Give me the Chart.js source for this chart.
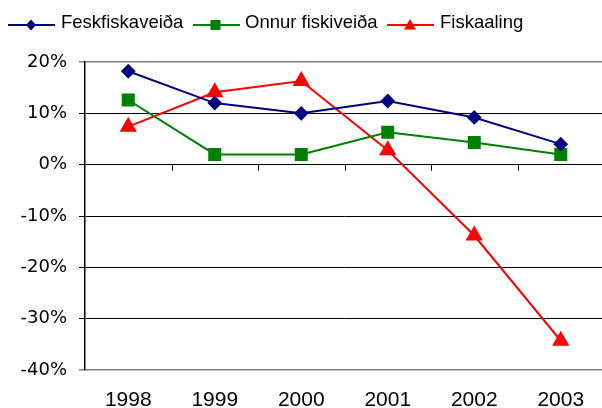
<!DOCTYPE html>
<html>
<head>
<meta charset="utf-8">
<script src="https://cdn.jsdelivr.net/npm/chart.js@4.4.1/dist/chart.umd.min.js"></script>
<style>
  html, body { margin: 0; padding: 0; background: #fff; overflow: hidden; }
  #wrap { position: relative; width: 602px; height: 408px; overflow: hidden; }
  #c { position: absolute; left: 0; top: 0; }
  .lg { position: absolute; font-family: "Liberation Sans", Arial, sans-serif; font-size: 18.5px; line-height: 18px; color: #000; white-space: nowrap; top: 13px; }
  .ls { position: absolute; top: 15px; }
</style>
</head>
<body>
<div id="wrap">
  <canvas id="c" width="604" height="408" style="width:604px;height:408px"></canvas>
  <svg class="ls" style="left:8px" width="48" height="20"><line x1="0" y1="10" x2="47" y2="10" stroke="#000080" stroke-width="2"/><polygon points="23,4.5 28,10 23,15.5 18,10" fill="#000080"/></svg>
  <div class="lg" style="left:61px">Feskfiskaveiða</div>
  <svg class="ls" style="left:193px" width="48" height="20"><line x1="0" y1="10" x2="47" y2="10" stroke="#008000" stroke-width="2"/><rect x="17.5" y="5" width="10" height="10" fill="#008000"/></svg>
  <div class="lg" style="left:245px">Onnur fiskiveiða</div>
  <svg class="ls" style="left:387px" width="48" height="20"><line x1="0" y1="10" x2="47" y2="10" stroke="#ff0000" stroke-width="2"/><polygon points="23,4 29,14.5 17,14.5" fill="#ff0000"/></svg>
  <div class="lg" style="left:440px">Fiskaaling</div>
</div>
<script>
const categories = ["1998", "1999", "2000", "2001", "2002", "2003"];
const seriesNames = ["Feskfiskaveiða", "Onnur fiskiveiða", "Fiskaaling"];
const feskfiskaveida = [18.2, 12.0, 10.0, 12.4, 9.2, 4.0];
const onnurFiskiveida = [12.6, 2.0, 2.0, 6.3, 4.3, 2.0];
const fiskaaling = [7.4, 14.1, 16.3, 2.8, -13.8, -34.3];
const yTicks = [-40, -30, -20, -10, 0, 10, 20];

const zeroTicks = {
  id: 'zeroTicks',
  afterDraw(chart) {
    const ctx = chart.ctx, xs = chart.scales.x, ys = chart.scales.y;
    const y0 = ys.getPixelForValue(0);
    const n = categories.length;
    const w = (xs.right - xs.left) / n;
    ctx.save();
    ctx.strokeStyle = '#000';
    ctx.lineWidth = 1;
    ctx.beginPath();
    for (let i = 1; i <= n; i++) {
      const x = Math.round(xs.left + i * w) + 0.5;
      ctx.moveTo(x, y0);
      ctx.lineTo(x, y0 + 6);
    }
    ctx.stroke();
    ctx.restore();
  }
};

new Chart(document.getElementById('c'), {
  type: 'line',
  data: {
    labels: categories,
    datasets: [
      { label: seriesNames[0], data: feskfiskaveida, borderColor: '#000080', backgroundColor: '#000080', borderWidth: 2, pointStyle: 'rectRot', pointRadius: 6, pointHoverRadius: 6, tension: 0 },
      { label: seriesNames[1], data: onnurFiskiveida, borderColor: '#008000', backgroundColor: '#008000', borderWidth: 2, pointStyle: 'rect', pointRadius: 7.8, pointHoverRadius: 7.8, tension: 0 },
      { label: seriesNames[2], data: fiskaaling, borderColor: '#ff0000', backgroundColor: '#ff0000', borderWidth: 2, pointStyle: 'triangle', pointRadius: 8, pointHoverRadius: 8, tension: 0 }
    ]
  },
  options: {
    responsive: false,
    animation: false,
    layout: { autoPadding: false, padding: { top: 62, left: 0, right: 0, bottom: 0 } },
    plugins: { legend: { display: false }, tooltip: { enabled: false } },
    scales: {
      x: {
        offset: true,
        grid: { display: false },
        border: { display: false },
        ticks: { color: '#000', font: { family: '"Liberation Sans", Arial, sans-serif', size: 21 }, padding: 10, maxRotation: 0 },
        afterFit(s) { s.height = 38; }
      },
      y: {
        min: -40, max: 20,
        afterBuildTicks(s) { s.ticks = yTicks.map(v => ({ value: v })); },
        grid: {
          color: c => (c.tick && (c.tick.value === 20 || c.tick.value === -40)) ? '#808080' : '#000',
          lineWidth: c => (c.tick && (c.tick.value === 20 || c.tick.value === -40)) ? 1.5 : 1,
          tickLength: 6,
          drawTicks: true
        },
        border: { display: true, color: '#000', width: 1.5 },
        ticks: { color: '#000', padding: 12, font: { family: '"DejaVu Sans", sans-serif', size: 18 }, callback: v => v + '%' },
        afterFit(s) { s.width = 85; }
      }
    }
  },
  plugins: [zeroTicks]
});
</script>
</body>
</html>
